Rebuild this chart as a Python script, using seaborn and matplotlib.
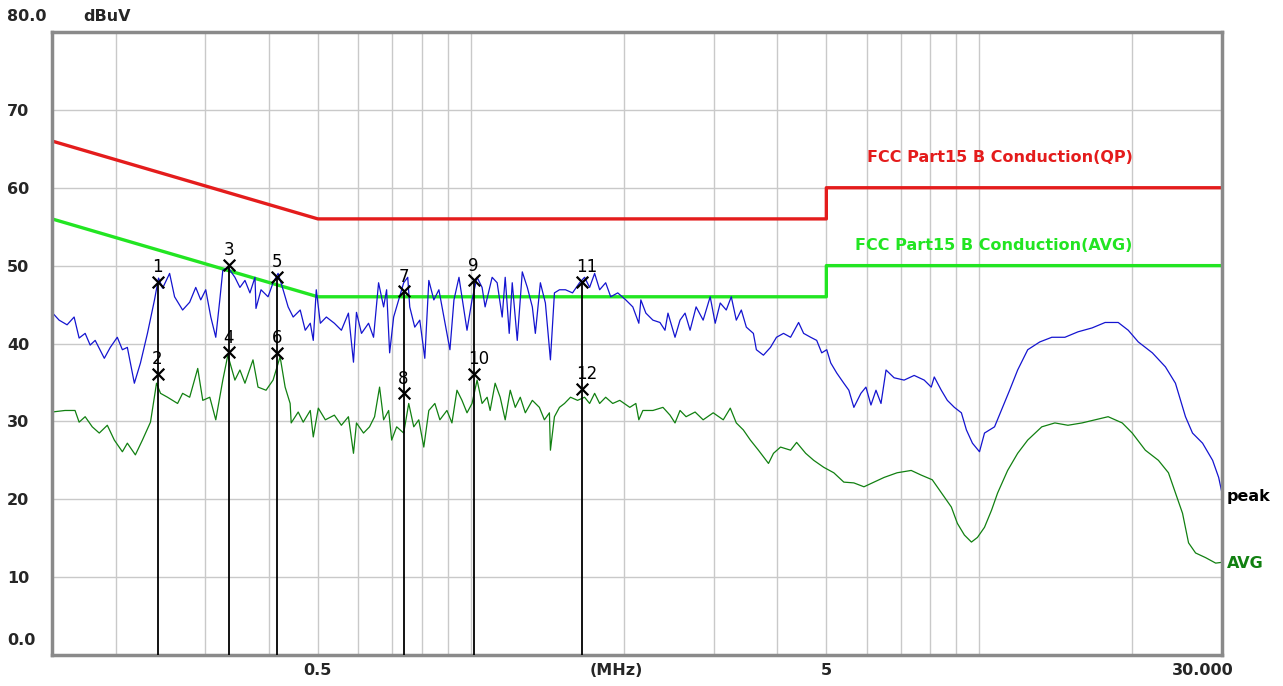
import seaborn as sns
import matplotlib.pyplot as plt
from matplotlib.ticker import NullFormatter
from matplotlib.transforms import ScaledTranslation

# peak trace (MHz, dBuV)
peak_freq = [0.150, 0.1549, 0.1606, 0.1658, 0.1696, 0.1743, 0.1783, 0.1824, 0.1901, 0.1953,
             0.2016, 0.2063, 0.2110, 0.2178, 0.2239, 0.2311, 0.2386, 0.2430, 0.2475, 0.2555,
             0.2613, 0.2710, 0.2798, 0.2876, 0.2942, 0.3009, 0.3079, 0.3149, 0.3207, 0.3251,
             0.3326, 0.3434, 0.3513, 0.3594, 0.3676, 0.3761, 0.3778, 0.3865, 0.3990, 0.4082,
             0.4176, 0.4272, 0.4370, 0.4471, 0.4616, 0.4722, 0.4831, 0.4897, 0.4964, 0.5056,
             0.5196, 0.5388, 0.5562, 0.5742, 0.5875, 0.5955, 0.6092, 0.6290, 0.6434, 0.6582,
             0.6734, 0.6826, 0.6920, 0.7047, 0.7210, 0.7375, 0.7511, 0.7580, 0.7754, 0.7932,
             0.8115, 0.8264, 0.8454, 0.8649, 0.8848, 0.9093, 0.9260, 0.9473, 0.9691, 0.9824,
             1.0050, 1.0282, 1.0518, 1.0663, 1.1008, 1.1261, 1.1520, 1.1679, 1.1893, 1.2057,
             1.2334, 1.2618, 1.2909, 1.3206, 1.3387, 1.3695, 1.4010, 1.4333, 1.4596, 1.4932,
             1.5345, 1.5842, 1.6355, 1.6731, 1.7116, 1.7510, 1.7913, 1.8408, 1.8832, 1.9442,
             2.0162, 2.0814, 2.1390, 2.1586, 2.2083, 2.2798, 2.3536, 2.4078, 2.4408, 2.5198,
             2.5778, 2.6371, 2.6978, 2.7724, 2.8621, 2.9548, 3.0228, 3.0924, 3.1779, 3.2510,
             3.3258, 3.4023, 3.4806, 3.5932, 3.6426, 3.7605, 3.8823, 3.9897, 4.1189, 4.2522,
             4.4099, 4.5114, 4.6574, 4.7864, 4.8965, 5.0091, 5.1012, 5.2424, 5.4120, 5.5367,
             5.6640, 5.8473, 5.9819, 6.1196, 6.2604, 6.4046, 6.5520, 6.7949, 7.1112, 7.4423,
             7.7888, 8.0409, 8.1513, 8.4152, 8.6481, 8.9280, 9.2169, 9.4290, 9.6900, 10.004,
             10.234, 10.710, 11.107, 11.467, 11.892, 12.446, 13.144, 13.882, 14.728, 15.629,
             16.657, 17.672, 18.749, 19.622, 20.535, 21.886, 23.220, 24.296, 25.427, 26.250,
             27.473, 28.751, 29.550, 30.0]
peak_dbuv = [44.0, 43.0, 42.4, 43.4, 40.7, 41.3, 39.8, 40.4, 38.1, 39.5,
             40.8, 39.2, 39.5, 34.9, 37.5, 41.3, 45.6, 48.4, 47.1, 49.0,
             46.0, 44.3, 45.3, 47.2, 45.6, 46.9, 43.4, 40.8, 45.6, 49.4,
             49.8, 48.5, 47.2, 48.1, 46.5, 48.5, 44.5, 46.9, 46.0, 47.8,
             49.0, 46.9, 44.7, 43.4, 44.3, 41.7, 42.6, 40.4, 46.9, 42.6,
             43.4, 42.6, 41.7, 43.9, 37.6, 44.0, 41.3, 42.6, 40.8, 47.8,
             44.7, 46.9, 38.8, 43.4, 45.6, 47.8, 48.5, 44.7, 42.1, 43.0,
             38.1, 48.1, 45.6, 46.9, 43.4, 39.2, 45.6, 48.5, 44.3, 41.7,
             45.6, 48.5, 47.2, 44.7, 48.5, 47.8, 43.4, 48.5, 41.3, 47.8,
             40.4, 49.2, 47.2, 44.7, 41.3, 47.8, 45.2, 37.9, 46.5, 46.9,
             46.9, 46.5, 47.8, 48.5, 47.2, 49.0, 46.9, 47.8, 46.0, 46.5,
             45.6, 44.7, 42.6, 45.6, 43.9, 43.0, 42.7, 41.7, 43.9, 40.8,
             43.0, 43.9, 41.7, 44.7, 43.0, 46.0, 42.6, 45.2, 44.3, 46.0,
             43.0, 44.3, 42.1, 41.3, 39.2, 38.5, 39.5, 40.8, 41.3, 40.8,
             42.7, 41.3, 40.8, 40.4, 38.8, 39.2, 37.5, 36.2, 34.9, 34.0,
             31.8, 33.6, 34.4, 32.1, 34.0, 32.3, 36.6, 35.6, 35.3, 35.9,
             35.3, 34.4, 35.7, 34.0, 32.7, 31.8, 31.1, 28.9, 27.2, 26.1,
             28.5, 29.3, 31.8, 34.0, 36.6, 39.2, 40.2, 40.8, 40.8, 41.5,
             42.0, 42.7, 42.7, 41.7, 40.2, 38.8, 37.0, 34.9, 30.6, 28.5,
             27.2, 25.0, 22.8, 20.8]

# average trace
avg_freq = [0.150, 0.1591, 0.1665, 0.1696, 0.1743, 0.1800, 0.1858, 0.1927, 0.1989, 0.2063,
            0.2110, 0.2188, 0.2259, 0.2343, 0.2408, 0.2452, 0.2531, 0.2649, 0.2710, 0.2798,
            0.2902, 0.2969, 0.3065, 0.3149, 0.3251, 0.3326, 0.3434, 0.3513, 0.3594, 0.3727,
            0.3813, 0.3954, 0.4082, 0.4214, 0.4311, 0.4410, 0.4431, 0.4574, 0.4679, 0.4831,
            0.4897, 0.5010, 0.5172, 0.5388, 0.5562, 0.5742, 0.5875, 0.5955, 0.6148, 0.6318,
            0.6464, 0.6612, 0.6734, 0.6889, 0.6984, 0.7144, 0.7375, 0.7545, 0.7719, 0.7896,
            0.8078, 0.8264, 0.8493, 0.8688, 0.8970, 0.9176, 0.9387, 0.9603, 0.9824, 1.0050,
            1.0282, 1.0518, 1.0760, 1.0908, 1.1159, 1.1416, 1.1679, 1.1948, 1.2223, 1.2504,
            1.2792, 1.3206, 1.3633, 1.3947, 1.4268, 1.4333, 1.4596, 1.4932, 1.5276, 1.5699,
            1.6206, 1.6731, 1.7116, 1.7510, 1.7913, 1.8408, 1.9005, 1.9620, 2.0535, 2.1103,
            2.1390, 2.1786, 2.2798, 2.3860, 2.4633, 2.5198, 2.5778, 2.6492, 2.7598, 2.8621,
            2.9956, 3.1350, 3.2365, 3.3258, 3.4334, 3.5445, 3.6765, 3.8477, 3.9360, 4.0637,
            4.2522, 4.3704, 4.5533, 4.7222, 4.9419, 5.1718, 5.4120, 5.6640, 5.9286, 6.2046,
            6.4935, 6.8891, 7.3422, 7.6842, 8.0783, 8.531, 8.807, 9.051, 9.344, 9.646,
            9.913, 10.234, 10.566, 10.859, 11.364, 11.892, 12.446, 13.264, 14.074, 14.930,
            15.915, 16.885, 17.914, 19.094, 19.981, 21.199, 22.491, 23.540, 24.296, 25.089,
            25.784, 26.618, 27.857, 29.150, 30.0]
avg_dbuv = [31.2, 31.4, 31.4, 29.9, 30.6, 29.3, 28.5, 29.5, 27.6, 26.1,
            27.2, 25.7, 27.6, 29.9, 34.9, 33.6, 33.1, 32.3, 33.6, 33.1,
            36.8, 32.7, 33.1, 30.2, 35.3, 38.5, 35.3, 36.6, 34.9, 37.9,
            34.4, 34.0, 35.3, 38.3, 34.4, 32.3, 29.8, 31.2, 29.9, 31.4,
            28.0, 31.7, 30.2, 30.8, 29.5, 30.6, 25.9, 29.8, 28.5, 29.3,
            30.6, 34.4, 30.2, 31.4, 27.6, 29.3, 28.5, 32.3, 29.3, 30.2,
            26.7, 31.4, 32.3, 30.2, 31.4, 29.8, 34.0, 32.7, 31.1, 32.3,
            35.3, 32.3, 33.1, 31.4, 34.9, 33.1, 30.2, 34.0, 31.8, 33.1,
            31.1, 32.7, 31.8, 30.2, 31.1, 26.3, 30.6, 31.8, 32.3, 33.1,
            32.7, 33.1, 32.3, 33.6, 32.3, 33.1, 32.3, 32.7, 31.8, 32.3,
            30.2, 31.4, 31.4, 31.8, 30.8, 29.8, 31.4, 30.6, 31.2, 30.2,
            31.1, 30.2, 31.7, 29.8, 28.9, 27.6, 26.3, 24.6, 25.9, 26.7,
            26.3, 27.3, 25.9, 25.0, 24.1, 23.4, 22.2, 22.1, 21.6, 22.2,
            22.8, 23.4, 23.7, 23.1, 22.5, 20.3, 19.0, 16.9, 15.4, 14.5,
            15.1, 16.4, 18.6, 20.8, 23.7, 25.9, 27.6, 29.3, 29.8, 29.5,
            29.8, 30.2, 30.6, 29.8, 28.5, 26.3, 25.0, 23.4, 20.8, 18.2,
            14.4, 13.1, 12.5, 11.8, 11.9]

# FCC Part 15 B conducted limits
qp_freq = [0.15, 0.5, 5, 5, 30]
qp_limit = [66, 56, 56, 60, 60]
av_freq = [0.15, 0.5, 5, 5, 30]
av_limit = [56, 46, 46, 50, 50]

# marker readings
marker_freq = [0.242, 0.334, 0.416, 0.738, 1.014, 1.650]
marker_peak = [47.9, 50.1, 48.6, 46.7, 48.1, 47.9]
marker_avg = [36.1, 38.9, 38.8, 33.6, 36.1, 34.2]

grid_freq = [0.2, 0.3, 0.4, 0.5, 0.6, 0.7, 0.8, 0.9, 1, 2, 3, 4, 5, 6, 7, 8, 9, 10, 20]
y_ticks = [10, 20, 30, 40, 50, 60, 70]

RED = '#e41c1c'
LIME = '#22e522'
BLUE = '#1414d0'
DKGREEN = '#118011'
GRIDC = '#c9c9c9'

sns.set_theme(style='white')
plt.rcParams['font.family'] = ['DejaVu Sans']

fig = plt.figure(figsize=(12.83, 6.86), dpi=100)
ax = fig.add_axes([52 / 1283, 31 / 686, 1170 / 1283, 623 / 686])
ax.set_xscale('log')

sns.lineplot(x=qp_freq, y=qp_limit, ax=ax, color=RED, linewidth=2.4, estimator=None, sort=False)
sns.lineplot(x=av_freq, y=av_limit, ax=ax, color=LIME, linewidth=2.4, estimator=None, sort=False)
sns.lineplot(x=avg_freq, y=avg_dbuv, ax=ax, color=DKGREEN, linewidth=0.9, estimator=None, sort=False)
sns.lineplot(x=peak_freq, y=peak_dbuv, ax=ax, color=BLUE, linewidth=0.9, estimator=None, sort=False)

ax.vlines(marker_freq, 0, marker_peak, color='black', linewidth=1.3, zorder=4)
sns.scatterplot(x=marker_freq + marker_freq, y=marker_peak + marker_avg, ax=ax, marker='x',
                color='black', s=70, linewidth=1.6, zorder=5)
for i, f in enumerate(marker_freq):
    ax.annotate(str(2 * i + 1), (f, marker_peak[i]), xytext=(-4, 4), textcoords='offset points',
                ha='left', va='bottom', fontsize=12, color='black')
    ax.annotate(str(2 * i + 2), (f, marker_avg[i]), xytext=(-4, 4), textcoords='offset points',
                ha='left', va='bottom', fontsize=12, color='black')

ax.set_xlim(0.15, 30)
ax.set_ylim(0, 80)

# grid
ax.xaxis.remove_overlapping_locs = False
ax.set_xticks(grid_freq, minor=True)
ax.xaxis.set_minor_formatter(NullFormatter())
ax.set_xticks([0.5, 1.93, 5, 30], ['0.5', '(MHz)', '5', '30.000'])
ax.set_yticks(y_ticks, [str(v) for v in y_ticks])
ax.grid(which='minor', axis='x', color=GRIDC, linewidth=1)
ax.grid(which='major', axis='x', visible=False)
ax.grid(which='major', axis='y', color=GRIDC, linewidth=1)
ax.set_axisbelow(True)

ax.tick_params(axis='both', which='both', length=0)
ax.tick_params(axis='x', pad=6, labelsize=11.5)
ax.tick_params(axis='y', pad=32.4, labelsize=11.5)
for lab in ax.get_xticklabels() + ax.get_yticklabels():
    lab.set_fontweight('bold')
for lab in ax.get_yticklabels():
    lab.set_horizontalalignment('left')
last = ax.get_xticklabels()[-1]
last.set_transform(last.get_transform() + ScaledTranslation(-0.19, 0, fig.dpi_scale_trans))

ax.set_xlabel('')
ax.set_ylabel('')

for side in ['left', 'bottom', 'top', 'right']:
    ax.spines[side].set_color('#8a8a8a')
    ax.spines[side].set_linewidth(2.5)

yax = ax.get_yaxis_transform()
ax.text(-45 / 1170, 82, '80.0', transform=yax, ha='left', va='center', fontsize=11.5,
        fontweight='bold', clip_on=False)
ax.text(-45 / 1170, 1.9, '0.0', transform=yax, ha='left', va='center', fontsize=11.5,
        fontweight='bold', clip_on=False)
ax.text(31 / 1170, 82, 'dBuV', transform=yax, ha='left', va='center', fontsize=11.5,
        fontweight='bold', clip_on=False)
ax.text(1.004, 20.3, 'peak', transform=yax, ha='left', va='center', fontsize=11.5,
        fontweight='bold', color='black', clip_on=False)
ax.text(1.004, 11.8, 'AVG', transform=yax, ha='left', va='center', fontsize=11.5,
        fontweight='bold', color=DKGREEN, clip_on=False)

ax.text(20, 63.9, 'FCC Part15 B Conduction(QP)', ha='right', va='center', fontsize=11.5,
        fontweight='bold', color=RED)
ax.text(20, 52.6, 'FCC Part15 B Conduction(AVG)', ha='right', va='center', fontsize=11.5,
        fontweight='bold', color=LIME)

fig.savefig('out.png', dpi=100)
